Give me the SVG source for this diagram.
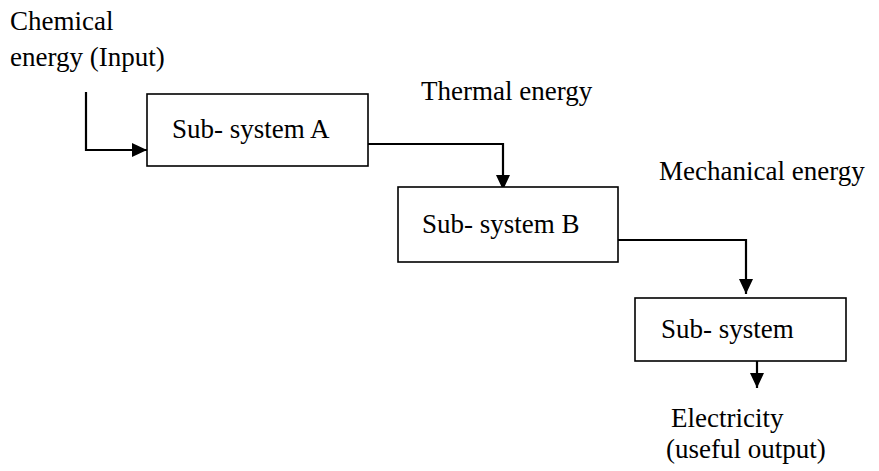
<svg xmlns="http://www.w3.org/2000/svg" width="879" height="471" viewBox="0 0 879 471">
<style>
text{font-family:"Liberation Serif","Times New Roman",serif;font-size:27px;fill:#000}
.box{fill:#fff;stroke:#000;stroke-width:1.6}
.c{fill:none;stroke:#000;stroke-width:2.2}
</style>
<defs>
<marker id="ah" markerWidth="15" markerHeight="14" refX="15" refY="7" orient="auto" markerUnits="userSpaceOnUse">
<path d="M0,0 L15,7 L0,14 Z" fill="#000"/>
</marker>
</defs>
<rect width="879" height="471" fill="#fff"/>
<g id="connectors">
<path class="c" d="M86,92 V150 H147" marker-end="url(#ah)"/>
<path class="c" d="M367,144 H503 V190" marker-end="url(#ah)"/>
<path class="c" d="M618,240 H746 V294" marker-end="url(#ah)"/>
<path class="c" d="M757,361 V388" marker-end="url(#ah)"/>
</g>
<g id="input-label">
<text x="10" y="30">Chemical</text>
<text x="10" y="66">energy (Input)</text>
</g>
<g id="subsystem-a">
<rect class="box" x="147" y="94" width="221" height="72"/>
<text x="172" y="138">Sub- system A</text>
</g>
<g id="thermal-label"><text x="421" y="100">Thermal energy</text></g>
<g id="subsystem-b">
<rect class="box" x="398" y="187" width="220" height="75"/>
<text x="422" y="233">Sub- system B</text>
</g>
<g id="mechanical-label"><text x="659" y="180">Mechanical energy</text></g>
<g id="subsystem-c">
<rect class="box" x="635" y="298" width="211" height="63"/>
<text x="661" y="338">Sub- system</text>
</g>
<g id="output-label">
<text x="671" y="427">Electricity</text>
<text x="666" y="458">(useful output)</text>
</g>
</svg>
